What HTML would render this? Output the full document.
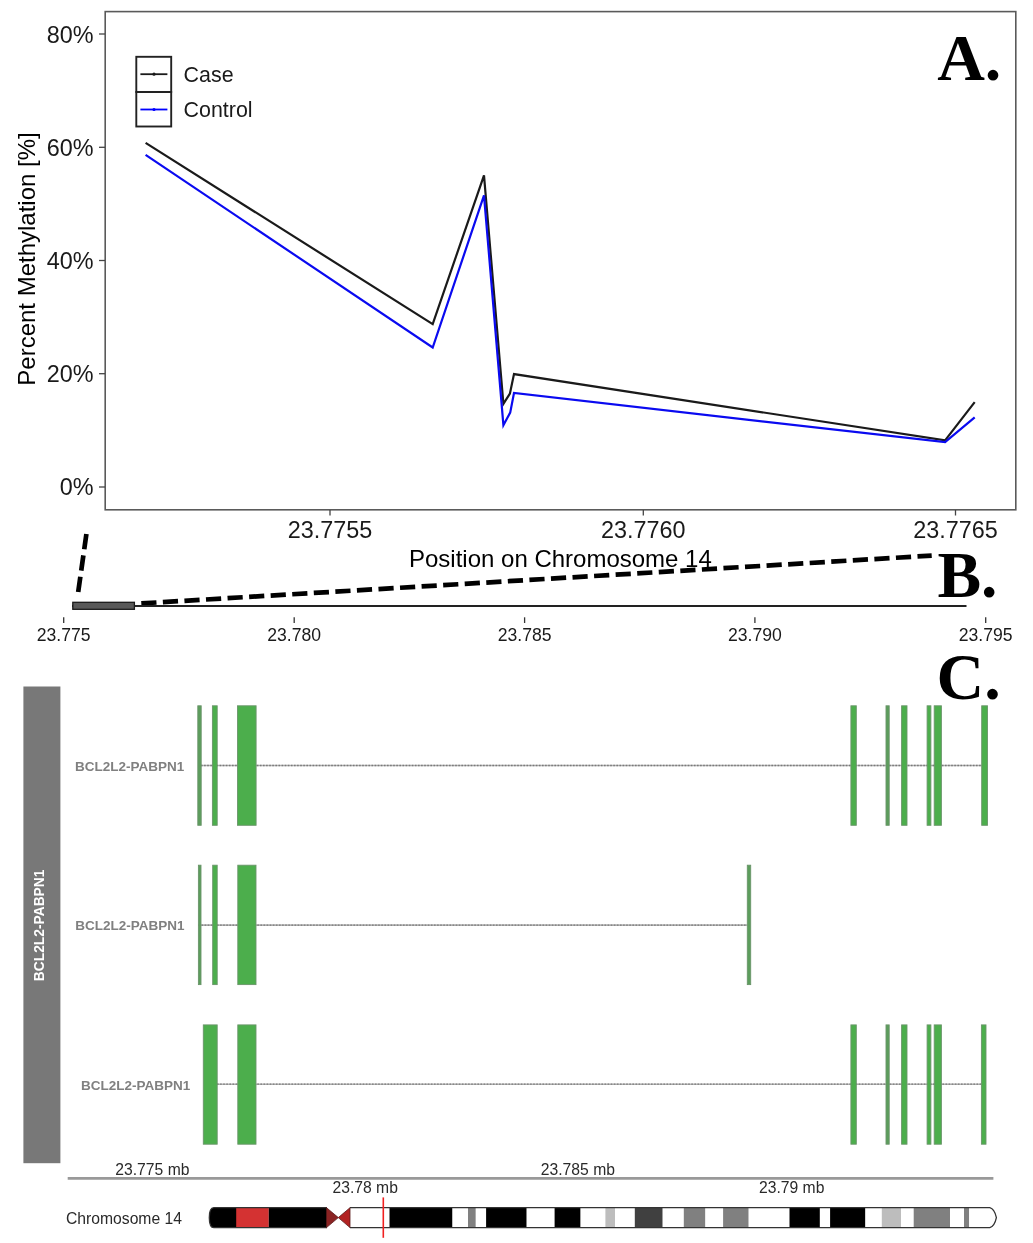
<!DOCTYPE html>
<html><head><meta charset="utf-8">
<style>
html,body{margin:0;padding:0;background:#fff;}
body{width:1033px;height:1243px;overflow:hidden;}
svg{display:block;will-change:transform;}
.s{font-family:"Liberation Sans",sans-serif;}
.r{font-family:"Liberation Serif",serif;font-weight:bold;}
</style></head><body>
<svg width="1033" height="1243" viewBox="0 0 1033 1243">
<rect x="0" y="0" width="1033" height="1243" fill="#fff"/>

<!-- ===== Panel A ===== -->
<rect x="105.2" y="11.6" width="910.6" height="498.2" fill="none" stroke="#5a5a5a" stroke-width="1.6"/>
<g stroke="#444" stroke-width="1.3">
<line x1="99" y1="34" x2="105" y2="34"/>
<line x1="99" y1="147.3" x2="105" y2="147.3"/>
<line x1="99" y1="260.5" x2="105" y2="260.5"/>
<line x1="99" y1="373.7" x2="105" y2="373.7"/>
<line x1="99" y1="487" x2="105" y2="487"/>
<line x1="330" y1="510" x2="330" y2="515.5"/>
<line x1="643.3" y1="510" x2="643.3" y2="515.5"/>
<line x1="955.5" y1="510" x2="955.5" y2="515.5"/>
</g>
<g class="s" font-size="23.4" fill="#1a1a1a" text-anchor="end">
<text x="93.5" y="42.7">80%</text>
<text x="93.5" y="155.5">60%</text>
<text x="93.5" y="268.7">40%</text>
<text x="93.5" y="381.9">20%</text>
<text x="93.5" y="495.2">0%</text>
</g>
<g class="s" font-size="23.4" fill="#1a1a1a" text-anchor="middle">
<text x="330" y="538.2">23.7755</text>
<text x="643.3" y="538.2">23.7760</text>
<text x="955.5" y="538.2">23.7765</text>
</g>
<text class="s" font-size="24" fill="#000" text-anchor="middle" x="560.4" y="567.1">Position on Chromosome 14</text>
<text class="s" font-size="24" fill="#000" text-anchor="middle" transform="translate(35.4,259) rotate(-90)">Percent Methylation [%]</text>

<!-- legend -->
<rect x="136.3" y="56.8" width="34.9" height="35.2" fill="none" stroke="#222" stroke-width="1.9"/>
<rect x="136.3" y="92" width="34.9" height="34.5" fill="none" stroke="#222" stroke-width="1.9"/>
<line x1="140.4" y1="74.2" x2="167.4" y2="74.2" stroke="#1a1a1a" stroke-width="1.8"/>
<line x1="140.4" y1="109.5" x2="167.4" y2="109.5" stroke="#0000ff" stroke-width="1.8"/>
<circle cx="154" cy="74.2" r="1.6" fill="#1a1a1a"/>
<circle cx="154" cy="109.5" r="1.6" fill="#0000ff"/>
<text class="s" font-size="21.4" fill="#1a1a1a" x="183.6" y="82.2">Case</text>
<text class="s" font-size="21.4" fill="#1a1a1a" x="183.6" y="117.4">Control</text>

<!-- data lines -->
<polyline fill="none" stroke="#1a1a1a" stroke-width="2.2" stroke-linejoin="miter" points="145.6,142.9 432.7,324.1 484,175.3 503.4,403.9 509.9,393.7 514,374.1 945.1,440.4 974.7,402.1"/>
<polyline fill="none" stroke="#0a0af0" stroke-width="2.2" stroke-linejoin="miter" points="145.6,154.9 432.7,347.5 484,195.4 503.4,425.2 510.2,412.6 514,393 945.1,442.2 974.7,417.4"/>

<text class="r" font-size="66" fill="#000" x="937.2" y="79.6">A.</text>

<!-- ===== Panel B ===== -->
<line x1="86.4" y1="534" x2="78.2" y2="592" stroke="#000" stroke-width="4.7" stroke-dasharray="15.4 6.2"/>
<line x1="141.3" y1="603.4" x2="931.7" y2="555.6" stroke="#000" stroke-width="4.7" stroke-dasharray="15.2 6.4"/>
<line x1="72" y1="605.9" x2="966.5" y2="605.9" stroke="#222" stroke-width="2"/>
<rect x="72.8" y="602.3" width="61.6" height="7" fill="#595959" stroke="#1a1a1a" stroke-width="1.3"/>
<g stroke="#333" stroke-width="1.3">
<line x1="63.7" y1="617.3" x2="63.7" y2="623"/>
<line x1="294.2" y1="617.3" x2="294.2" y2="623"/>
<line x1="524.6" y1="617.3" x2="524.6" y2="623"/>
<line x1="754.9" y1="617.3" x2="754.9" y2="623"/>
<line x1="985.7" y1="617.3" x2="985.7" y2="623"/>
</g>
<g class="s" font-size="17.6" fill="#1a1a1a" text-anchor="middle">
<text x="63.7" y="641.2">23.775</text>
<text x="294.2" y="641.2">23.780</text>
<text x="524.6" y="641.2">23.785</text>
<text x="754.9" y="641.2">23.790</text>
<text x="985.7" y="641.2">23.795</text>
</g>
<text class="r" font-size="65.5" fill="#000" x="937.4" y="597.2">B.</text>

<!-- ===== Panel C ===== -->
<text class="r" font-size="66" fill="#000" x="936.6" y="699.4">C.</text>
<rect x="23.4" y="686.5" width="37" height="476.7" fill="#787878"/>
<text class="s" font-size="13.8" font-weight="bold" fill="#fff" text-anchor="middle" transform="translate(44.2,925.4) rotate(-90)">BCL2L2-PABPN1</text>

<g class="s" font-size="13.5" font-weight="bold" fill="#808080" text-anchor="end">
<text x="184.3" y="770.9">BCL2L2-PABPN1</text>
<text x="184.6" y="930.3">BCL2L2-PABPN1</text>
<text x="190.2" y="1090">BCL2L2-PABPN1</text>
</g>

<g stroke="#b4b4b4" stroke-width="1.6">
<line x1="201" y1="765.5" x2="981.7" y2="765.5"/>
<line x1="198.4" y1="925.1" x2="747.3" y2="925.1"/>
<line x1="217" y1="1084.2" x2="981.4" y2="1084.2"/>
</g>
<g stroke="#7a7a7a" stroke-width="1.3" stroke-dasharray="1.6 1.5">
<line x1="201" y1="765.5" x2="981.7" y2="765.5"/>
<line x1="198.4" y1="925.1" x2="747.3" y2="925.1"/>
<line x1="217" y1="1084.2" x2="981.4" y2="1084.2"/>
</g>

<g fill="#4cae4c" stroke="#6a946a" stroke-width="0.9">
<!-- row 1 -->
<rect x="197.8" y="705.8" width="3.4" height="119.5" fill="#5c9d5c"/>
<rect x="212.4" y="705.8" width="4.8" height="119.5"/>
<rect x="237.5" y="705.8" width="18.6" height="119.5"/>
<rect x="850.9" y="705.8" width="5.4" height="119.5"/>
<rect x="886" y="705.8" width="3.2" height="119.5" fill="#5c9d5c"/>
<rect x="901.6" y="705.8" width="5.4" height="119.5"/>
<rect x="927.1" y="705.8" width="3.8" height="119.5"/>
<rect x="934.2" y="705.8" width="7.2" height="119.5"/>
<rect x="981.7" y="705.8" width="5.8" height="119.5"/>
<!-- row 2 -->
<rect x="198.4" y="865.2" width="2.6" height="119.4" fill="#5c9d5c"/>
<rect x="212.7" y="865.2" width="4.5" height="119.4"/>
<rect x="237.8" y="865.2" width="18.2" height="119.4"/>
<rect x="747.3" y="865.2" width="3.4" height="119.4" fill="#5c9d5c"/>
<!-- row 3 -->
<rect x="203.3" y="1024.9" width="13.9" height="119.3"/>
<rect x="237.8" y="1024.9" width="18.2" height="119.3"/>
<rect x="850.9" y="1024.9" width="5.4" height="119.3"/>
<rect x="886" y="1024.9" width="3.2" height="119.3" fill="#5c9d5c"/>
<rect x="901.6" y="1024.9" width="5.4" height="119.3"/>
<rect x="927.1" y="1024.9" width="3.8" height="119.3"/>
<rect x="934.2" y="1024.9" width="7.2" height="119.3"/>
<rect x="981.4" y="1024.9" width="4.6" height="119.3"/>
</g>

<!-- genome axis -->
<line x1="67.7" y1="1178.3" x2="993.4" y2="1178.3" stroke="#999" stroke-width="2.7"/>
<g class="s" font-size="15.7" fill="#2a2a2a">
<text x="115.3" y="1175">23.775 mb</text>
<text x="540.8" y="1175">23.785 mb</text>
<text x="332.5" y="1192.8">23.78 mb</text>
<text x="759" y="1192.6">23.79 mb</text>
</g>
<text class="s" font-size="15.7" fill="#2a2a2a" x="66" y="1223.5">Chromosome 14</text>

<!-- ideogram -->
<g>
<clipPath id="ideo"><path d="M213.8,1207.7 H327 V1227.6 H213.8 C210.6,1227.6 209.3,1223.3 209.3,1217.65 C209.3,1212 210.6,1207.7 213.8,1207.7 Z M350,1207.7 H989.8 C993.3,1208.6 995.4,1213 996.4,1217.65 C995.4,1222.3 993.3,1226.7 989.8,1227.6 H350 Z"/></clipPath>
<g clip-path="url(#ideo)">
<rect x="205" y="1207" width="32" height="22" fill="#000"/>
<rect x="236.2" y="1207" width="32.6" height="22" fill="#d43232"/>
<rect x="268.8" y="1207" width="58.5" height="22" fill="#000"/>
<rect x="350" y="1207" width="39.5" height="22" fill="#fff"/>
<rect x="389.5" y="1207" width="63" height="22" fill="#000"/>
<rect x="452.5" y="1207" width="15.5" height="22" fill="#fff"/>
<rect x="468" y="1207" width="7.8" height="22" fill="#808080"/>
<rect x="475.8" y="1207" width="10.3" height="22" fill="#fff"/>
<rect x="486.1" y="1207" width="40.6" height="22" fill="#000"/>
<rect x="526.7" y="1207" width="27.9" height="22" fill="#fff"/>
<rect x="554.6" y="1207" width="26" height="22" fill="#000"/>
<rect x="580.6" y="1207" width="24.8" height="22" fill="#fff"/>
<rect x="605.4" y="1207" width="9.6" height="22" fill="#bdbdbd"/>
<rect x="615" y="1207" width="19.8" height="22" fill="#fff"/>
<rect x="634.8" y="1207" width="27.9" height="22" fill="#404040"/>
<rect x="662.7" y="1207" width="21.1" height="22" fill="#fff"/>
<rect x="683.8" y="1207" width="21.6" height="22" fill="#808080"/>
<rect x="705.4" y="1207" width="17.7" height="22" fill="#fff"/>
<rect x="723.1" y="1207" width="25.6" height="22" fill="#808080"/>
<rect x="748.7" y="1207" width="40.8" height="22" fill="#fff"/>
<rect x="789.5" y="1207" width="30.4" height="22" fill="#000"/>
<rect x="819.9" y="1207" width="10.2" height="22" fill="#fff"/>
<rect x="830.1" y="1207" width="35.3" height="22" fill="#000"/>
<rect x="865.4" y="1207" width="16.4" height="22" fill="#fff"/>
<rect x="881.8" y="1207" width="19.2" height="22" fill="#bdbdbd"/>
<rect x="901" y="1207" width="12.7" height="22" fill="#fff"/>
<rect x="913.7" y="1207" width="36.3" height="22" fill="#808080"/>
<rect x="950" y="1207" width="14" height="22" fill="#fff"/>
<rect x="964" y="1207" width="5.2" height="22" fill="#808080"/>
<rect x="969.2" y="1207" width="30" height="22" fill="#fff"/>
</g>
<path d="M213.8,1207.7 H327 M213.8,1227.6 H327 M213.8,1207.7 C210.6,1207.7 209.3,1212 209.3,1217.65 C209.3,1223.3 210.6,1227.6 213.8,1227.6 M350,1207.7 H989.8 C993.3,1208.6 995.4,1213 996.4,1217.65 C995.4,1222.3 993.3,1226.7 989.8,1227.6 H350" fill="none" stroke="#333" stroke-width="1.3"/>
<polygon points="326.5,1207.7 338.3,1217.6 326.5,1227.6" fill="#8b2323" stroke="#5a1a1a" stroke-width="0.8"/>
<polygon points="350,1207.7 338.3,1217.6 350,1227.6" fill="#b22222" stroke="#5a1a1a" stroke-width="0.8"/>
<line x1="383.3" y1="1197.4" x2="383.3" y2="1237.8" stroke="#f02020" stroke-width="1.6"/>
</g>
</svg>
</body></html>
